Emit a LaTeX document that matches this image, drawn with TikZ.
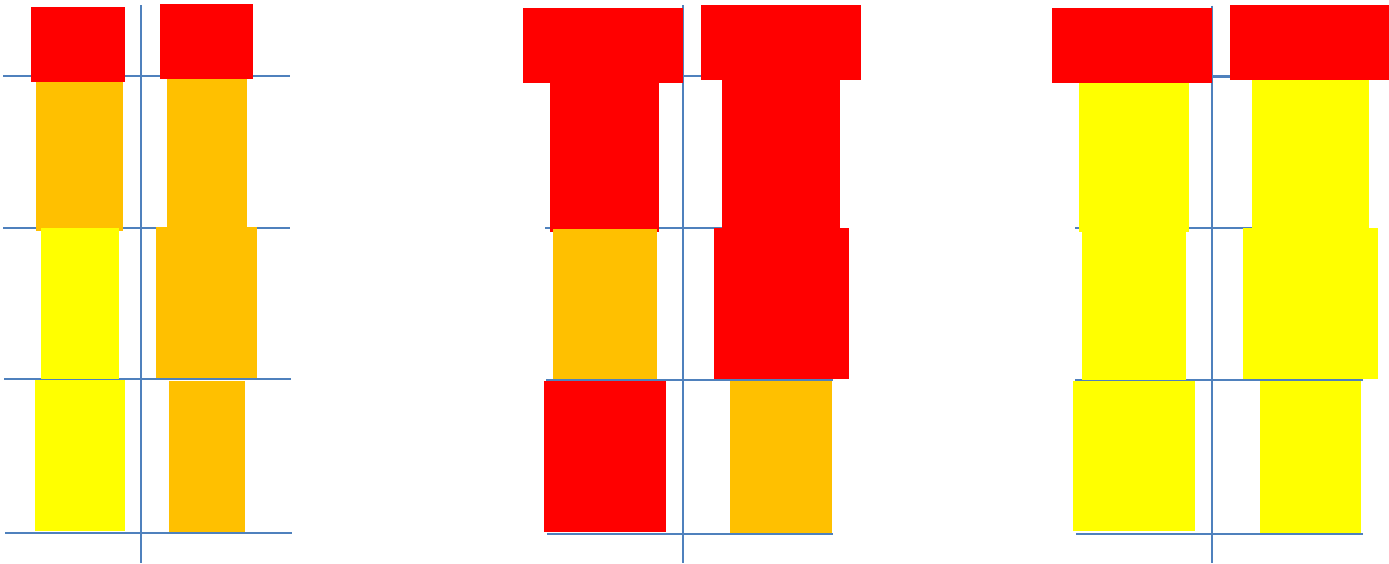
\documentclass[tikz,border=0pt]{standalone}
\definecolor{bred}{HTML}{FF0000}
\definecolor{borange}{HTML}{FFC000}
\definecolor{byellow}{HTML}{FFFF00}
\definecolor{gridblue}{HTML}{4F81BD}
\begin{document}
\begin{tikzpicture}[x=0.01cm,y=-0.01cm,
  gline/.style={draw=gridblue,line width=0.7pt},
  redbox/.style={fill=bred},
  orangebox/.style={fill=borange},
  yellowbox/.style={fill=byellow}]
\useasboundingbox[fill=white] (0,0) rectangle (1389,563);
% ---------- panel 1 ----------
\draw[gline] (141,5) -- (141,563);
\draw[gline] (3,76) -- (290,76);
\draw[gline] (3,228) -- (290,228);
\draw[gline] (4,379) -- (291,379);
\draw[gline] (5,533) -- (292,533);
\fill[redbox] (31,7) rectangle (125,82);
\fill[orangebox] (36,82) rectangle (123,231);
\fill[yellowbox] (41,228) rectangle (119,379);
\fill[yellowbox] (35,380) rectangle (125,531);
\fill[redbox] (160,4) rectangle (253,79);
\fill[orangebox] (167,79) rectangle (247,227);
\fill[orangebox] (156,227) rectangle (257,378);
\fill[orangebox] (169,381) rectangle (245,532);
% ---------- panel 2 ----------
\draw[gline] (683,5) -- (683,563);
\draw[gline] (545,76) -- (833,76);
\draw[gline] (545,228) -- (833,228);
\draw[gline] (546,380) -- (833,380);
\draw[gline] (547,534) -- (833,534);
\fill[redbox] (523,7.5) rectangle (683,82.5);
\fill[redbox] (550,82) rectangle (659,231.5);
\fill[orangebox] (553,229) rectangle (657,379);
\fill[redbox] (544,380.5) rectangle (666,531.5);
\fill[redbox] (701,4.7) rectangle (861,80);
\fill[redbox] (722,79.5) rectangle (840,228);
\fill[redbox] (714,227.6) rectangle (849,378.8);
\fill[orangebox] (730,381) rectangle (832,533);
% ---------- panel 3 ----------
\draw[gline] (1212,5.7) -- (1212,563);
\draw[gline] (1075,76.5) -- (1363,76.5);
\draw[gline] (1075,228) -- (1363,228);
\draw[gline] (1075,380) -- (1363,380);
\draw[gline] (1076,534) -- (1363,534);
\fill[redbox] (1052,7.5) rectangle (1212,82.5);
\fill[yellowbox] (1079,82.5) rectangle (1189,231.5);
\fill[yellowbox] (1082,229) rectangle (1186,379.5);
\fill[yellowbox] (1073,380.6) rectangle (1195,531.4);
\fill[redbox] (1230,4.7) rectangle (1389,80);
\fill[yellowbox] (1252,80) rectangle (1369,227.6);
\fill[yellowbox] (1243,227.6) rectangle (1378,378.5);
\fill[yellowbox] (1260,381) rectangle (1361,533);
\end{tikzpicture}
\end{document}
